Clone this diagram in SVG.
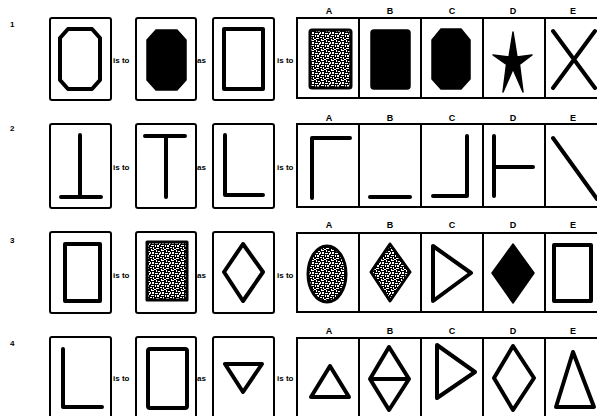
<svg xmlns="http://www.w3.org/2000/svg" width="597" height="416" viewBox="0 0 597 416">
<style>
.box{fill:#fff;stroke:#000;stroke-width:2}
.cell{fill:none;stroke:#000;stroke-width:2}
.o{fill:none;stroke:#000;stroke-width:4;stroke-linejoin:round;stroke-linecap:round}
.f{fill:#000;stroke:#000;stroke-width:1.5;stroke-linejoin:round}
.s{fill:url(#stip);stroke:#000;stroke-width:3;stroke-linejoin:round}
.lbl{font-family:"Liberation Sans",Arial,sans-serif;font-weight:bold;font-size:8px;fill:#000}
.let{font-family:"Liberation Sans",Arial,sans-serif;font-weight:bold;font-size:9px;fill:#000;text-anchor:middle}
.num{font-family:"Liberation Sans",Arial,sans-serif;font-weight:bold;font-size:8px;fill:#000}
</style>
<defs>
<pattern id="stip" width="10" height="10" patternUnits="userSpaceOnUse">
<rect width="10" height="10" fill="#000"/>
<g fill="#fff">
<rect x="1" y="0" width="3" height="1"/>
<rect x="6" y="0" width="1" height="2"/>
<rect x="8" y="1" width="2" height="1"/>
<rect x="0" y="2" width="1" height="2"/>
<rect x="2" y="2" width="2" height="2"/>
<rect x="5" y="3" width="3" height="1"/>
<rect x="9" y="3" width="1" height="2"/>
<rect x="1" y="5" width="3" height="1"/>
<rect x="5" y="5" width="1" height="2"/>
<rect x="7" y="5" width="2" height="2"/>
<rect x="0" y="7" width="2" height="1"/>
<rect x="3" y="7" width="1" height="2"/>
<rect x="6" y="8" width="3" height="1"/>
<rect x="1" y="9" width="1" height="1"/>
<rect x="4" y="9" width="2" height="1"/>
</g>
</pattern>
</defs>
<rect width="597" height="416" fill="#fff"/>

<!-- Row 1 -->
<g id="row1">
<text class="num" x="10" y="27">1</text>
<g id="r1q1"><rect class="box" x="50" y="18" width="61" height="82" rx="2"/>
<polygon class="o" points="68,29 92,29 100,38 100,80 92,89 68,89 60,80 60,38"/></g>
<text class="lbl" x="113" y="63">is to</text>
<g id="r1q2"><rect class="box" x="136" y="18" width="60" height="82" rx="2"/>
<polygon class="f" points="156,30 177,30 186,40 186,80 177,90 156,90 147,80 147,40"/></g>
<text class="lbl" x="197" y="63">as</text>
<g id="r1q3"><rect class="box" x="213" y="18" width="61" height="82" rx="2"/>
<rect class="o" x="224" y="29" width="39" height="60" stroke-linejoin="miter"/></g>
<text class="lbl" x="277" y="63">is to</text>
<g id="r1ans">
<text class="let" x="329" y="14">A</text><text class="let" x="390" y="14">B</text><text class="let" x="452" y="14">C</text><text class="let" x="513" y="14">D</text><text class="let" x="573" y="14">E</text>
<rect class="cell" x="297" y="18" width="320" height="80"/>
<line class="cell" x1="359" y1="18" x2="359" y2="98"/><line class="cell" x1="421" y1="18" x2="421" y2="98"/><line class="cell" x1="483" y1="18" x2="483" y2="98"/><line class="cell" x1="545" y1="18" x2="545" y2="98"/>
<rect class="s" x="310" y="30" width="41" height="58" rx="2"/>
<rect class="f" x="371" y="30" width="39" height="59" rx="3"/>
<polygon class="f" points="441,29 461,29 470,40 470,79 461,89 441,89 432,79 432,40"/>
<polygon class="f" points="513,32 517,57 532,55 519.5,64.5 523,92 513,69 503,92 506.5,64.5 493,55 509,57"/>
<path class="o" d="M553,31 L595,88 M595,31 L553,88"/>
</g>
</g>

<!-- Row 2 -->
<g id="row2">
<text class="num" x="10" y="131">2</text>
<g id="r2q1"><rect class="box" x="50" y="124" width="61" height="84" rx="2"/>
<path class="o" d="M80,135 L80,197 M61,197 L101,197"/></g>
<text class="lbl" x="113" y="170">is to</text>
<g id="r2q2"><rect class="box" x="136" y="124" width="60" height="84" rx="2"/>
<path class="o" d="M145,136 L185,136 M166,136 L166,197"/></g>
<text class="lbl" x="197" y="170">as</text>
<g id="r2q3"><rect class="box" x="213" y="124" width="61" height="84" rx="2"/>
<path class="o" d="M225,135 L225,195 L263,195"/></g>
<text class="lbl" x="277" y="170">is to</text>
<g id="r2ans">
<text class="let" x="329" y="121">A</text><text class="let" x="390" y="121">B</text><text class="let" x="452" y="121">C</text><text class="let" x="513" y="121">D</text><text class="let" x="573" y="121">E</text>
<rect class="cell" x="297" y="124" width="320" height="83"/>
<line class="cell" x1="359" y1="124" x2="359" y2="207"/><line class="cell" x1="421" y1="124" x2="421" y2="207"/><line class="cell" x1="483" y1="124" x2="483" y2="207"/><line class="cell" x1="545" y1="124" x2="545" y2="207"/>
<path class="o" d="M312,198 L312,138 L350,138"/>
<path class="o" d="M370,197 L410,197"/>
<path class="o" d="M433,196 L467,196 L467,136"/>
<path class="o" d="M494,136 L494,196 M494,167 L533,167"/>
<path class="o" d="M553,138 L597,199"/>
</g>
</g>

<!-- Row 3 -->
<g id="row3">
<text class="num" x="10" y="243">3</text>
<g id="r3q1"><rect class="box" x="50" y="232" width="61" height="81" rx="2"/>
<rect class="o" x="65" y="244" width="35" height="57" stroke-linejoin="miter"/></g>
<text class="lbl" x="113" y="278">is to</text>
<g id="r3q2"><rect class="box" x="136" y="232" width="60" height="81" rx="2"/>
<rect class="s" x="147" y="242" width="40" height="58"/></g>
<text class="lbl" x="197" y="278">as</text>
<g id="r3q3"><rect class="box" x="213" y="232" width="61" height="81" rx="2"/>
<polygon class="o" points="243,244 263,272 243,301 224,272"/></g>
<text class="lbl" x="277" y="278">is to</text>
<g id="r3ans">
<text class="let" x="329" y="228">A</text><text class="let" x="390" y="228">B</text><text class="let" x="452" y="228">C</text><text class="let" x="513" y="228">D</text><text class="let" x="573" y="228">E</text>
<rect class="cell" x="297" y="233" width="320" height="79"/>
<line class="cell" x1="359" y1="233" x2="359" y2="312"/><line class="cell" x1="421" y1="233" x2="421" y2="312"/><line class="cell" x1="483" y1="233" x2="483" y2="312"/><line class="cell" x1="545" y1="233" x2="545" y2="312"/>
<ellipse class="s" cx="327" cy="274" rx="19" ry="28"/>
<polygon class="s" points="390,244 410,272 390,301 371,272"/>
<polygon class="o" points="433,246 433,301 471,273"/>
<polygon class="f" points="513,244 534,273 513,303 492,273"/>
<rect class="o" x="554" y="245" width="37" height="56" stroke-linejoin="miter"/>
</g>
</g>

<!-- Row 4 -->
<g id="row4">
<text class="num" x="10" y="346">4</text>
<g id="r4q1"><rect class="box" x="50" y="337" width="61" height="83" rx="2"/>
<path class="o" d="M63,349 L63,407 L102,407"/></g>
<text class="lbl" x="113" y="381">is to</text>
<g id="r4q2"><rect class="box" x="136" y="337" width="60" height="83" rx="2"/>
<rect class="o" x="148" y="349" width="39" height="59" rx="2"/></g>
<text class="lbl" x="197" y="381">as</text>
<g id="r4q3"><rect class="box" x="213" y="337" width="61" height="83" rx="2"/>
<polygon class="o" points="225,364 262,364 243,392"/></g>
<text class="lbl" x="277" y="381">is to</text>
<g id="r4ans">
<text class="let" x="329" y="334">A</text><text class="let" x="390" y="334">B</text><text class="let" x="452" y="334">C</text><text class="let" x="513" y="334">D</text><text class="let" x="573" y="334">E</text>
<rect class="cell" x="297" y="338" width="320" height="82"/>
<line class="cell" x1="359" y1="338" x2="359" y2="420"/><line class="cell" x1="421" y1="338" x2="421" y2="420"/><line class="cell" x1="483" y1="338" x2="483" y2="420"/><line class="cell" x1="545" y1="338" x2="545" y2="420"/>
<polygon class="o" points="330,366 349,397 311,397"/>
<path class="o" d="M389,347 L409,379 L389,410 L370,379 Z M370,379 L409,379"/>
<polygon class="o" points="437,345 475,372 437,398"/>
<polygon class="o" points="513,346 534,378 513,410 494,378"/>
<polygon class="o" points="573,352 594,407 556,407"/>
</g>
</g>
</svg>
